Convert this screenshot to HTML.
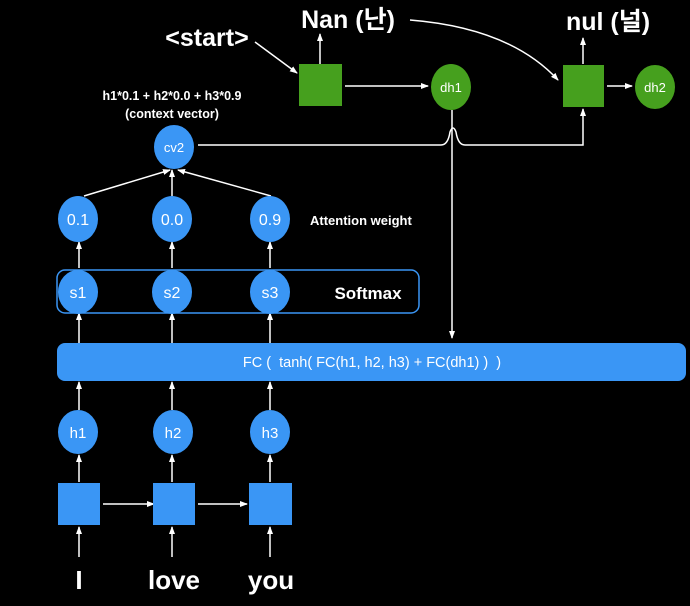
<!DOCTYPE html>
<html><head><meta charset="utf-8"><style>
html,body{margin:0;padding:0;background:#000;}
svg{display:block}
text{font-family:"Liberation Sans","Noto Sans CJK KR",sans-serif;fill:#fff;}
</style></head><body>
<svg width="690" height="606" viewBox="0 0 690 606">
<defs><marker id="a" markerWidth="8" markerHeight="8" refX="7" refY="4" orient="auto" markerUnits="userSpaceOnUse"><path d="M0,1 L8,4 L0,7 Z" fill="#fff"/></marker></defs>
<g stroke="#fff" stroke-width="1.5" fill="none">
<!-- top decoder -->
<line x1="255" y1="42" x2="297" y2="73" marker-end="url(#a)"/>
<line x1="320" y1="64" x2="320" y2="34" marker-end="url(#a)"/>
<line x1="345" y1="86" x2="428" y2="86" marker-end="url(#a)"/>
<path d="M410,20 Q510,28 558,80" marker-end="url(#a)"/>
<line x1="583" y1="64" x2="583" y2="38" marker-end="url(#a)"/>
<line x1="607" y1="86" x2="632" y2="86" marker-end="url(#a)"/>
<path d="M198,145 L441,145 Q448,145 450,132 Q453,124 456,132 Q458,145 465,145 L583,145 L583,109" marker-end="url(#a)"/>
<line x1="452" y1="110" x2="452" y2="338" marker-end="url(#a)"/>
<!-- attention -->
<line x1="84" y1="196" x2="170" y2="170" marker-end="url(#a)"/>
<line x1="172" y1="196" x2="172" y2="170" marker-end="url(#a)"/>
<line x1="271" y1="196" x2="178" y2="170" marker-end="url(#a)"/>
<line x1="79" y1="268" x2="79" y2="242" marker-end="url(#a)"/>
<line x1="172" y1="268" x2="172" y2="242" marker-end="url(#a)"/>
<line x1="270" y1="268" x2="270" y2="242" marker-end="url(#a)"/>
<line x1="79" y1="343" x2="79" y2="313" marker-end="url(#a)"/>
<line x1="172" y1="343" x2="172" y2="313" marker-end="url(#a)"/>
<line x1="270" y1="343" x2="270" y2="313" marker-end="url(#a)"/>
<line x1="79" y1="410" x2="79" y2="382" marker-end="url(#a)"/>
<line x1="172" y1="410" x2="172" y2="382" marker-end="url(#a)"/>
<line x1="270" y1="410" x2="270" y2="382" marker-end="url(#a)"/>
<line x1="79" y1="482" x2="79" y2="455" marker-end="url(#a)"/>
<line x1="172" y1="482" x2="172" y2="455" marker-end="url(#a)"/>
<line x1="270" y1="482" x2="270" y2="455" marker-end="url(#a)"/>
<line x1="103" y1="504" x2="154" y2="504" marker-end="url(#a)"/>
<line x1="198" y1="504" x2="247" y2="504" marker-end="url(#a)"/>
<line x1="79" y1="557" x2="79" y2="527" marker-end="url(#a)"/>
<line x1="172" y1="557" x2="172" y2="527" marker-end="url(#a)"/>
<line x1="270" y1="557" x2="270" y2="527" marker-end="url(#a)"/>
</g>
<rect x="299" y="64" width="43" height="42" fill="#46a01e"/>
<rect x="563" y="65" width="41" height="42" fill="#46a01e"/>
<ellipse cx="451" cy="87" rx="20" ry="23" fill="#46a01e"/>
<ellipse cx="655" cy="87" rx="20" ry="22" fill="#46a01e"/>
<text x="451" y="92" font-size="13" text-anchor="middle">dh1</text>
<text x="655" y="92" font-size="13" text-anchor="middle">dh2</text>
<text x="207" y="46" font-size="25" font-weight="bold" text-anchor="middle">&lt;start&gt;</text>
<text x="348" y="28" font-size="25" font-weight="bold" text-anchor="middle">Nan (난)</text>
<text x="608" y="30" font-size="25" font-weight="bold" text-anchor="middle">nul (널)</text>
<text x="172" y="100" font-size="12.5" font-weight="bold" text-anchor="middle">h1*0.1 + h2*0.0 + h3*0.9</text>
<text x="172" y="118" font-size="12.5" font-weight="bold" text-anchor="middle">(context vector)</text>
<ellipse cx="174" cy="147" rx="20" ry="22" fill="#3a96f5"/>
<text x="174" y="152" font-size="13" text-anchor="middle">cv2</text>
<g fill="#3a96f5">
<ellipse cx="78" cy="219" rx="20" ry="23"/><ellipse cx="172" cy="219" rx="20" ry="23"/><ellipse cx="270" cy="219" rx="20" ry="23"/>
</g>
<text x="78" y="225" font-size="16" text-anchor="middle">0.1</text>
<text x="172" y="225" font-size="16" text-anchor="middle">0.0</text>
<text x="270" y="225" font-size="16" text-anchor="middle">0.9</text>
<text x="310" y="225" font-size="13" font-weight="bold">Attention weight</text>
<rect x="57" y="270" width="362" height="43" rx="8" fill="none" stroke="#3a96f5" stroke-width="1.5"/>
<g fill="#3a96f5">
<ellipse cx="78" cy="292" rx="20" ry="22"/><ellipse cx="172" cy="292" rx="20" ry="22"/><ellipse cx="270" cy="292" rx="20" ry="22"/>
</g>
<text x="78" y="298" font-size="16" text-anchor="middle">s1</text>
<text x="172" y="298" font-size="16" text-anchor="middle">s2</text>
<text x="270" y="298" font-size="16" text-anchor="middle">s3</text>
<text x="368" y="299" font-size="17" font-weight="bold" text-anchor="middle">Softmax</text>
<rect x="57" y="343" width="629" height="38" rx="8" fill="#3a96f5"/>
<text x="372" y="367" font-size="14.5" text-anchor="middle" xml:space="preserve">FC (  tanh( FC(h1, h2, h3) + FC(dh1) )  )</text>
<g fill="#3a96f5">
<ellipse cx="78" cy="432" rx="20" ry="22"/><ellipse cx="173" cy="432" rx="20" ry="22"/><ellipse cx="270" cy="432" rx="20" ry="22"/>
<rect x="58" y="483" width="42" height="42"/><rect x="153" y="483" width="42" height="42"/><rect x="249" y="483" width="43" height="42"/>
</g>
<text x="78" y="438" font-size="15" text-anchor="middle">h1</text>
<text x="173" y="438" font-size="15" text-anchor="middle">h2</text>
<text x="270" y="438" font-size="15" text-anchor="middle">h3</text>
<text x="79" y="589" font-size="26" font-weight="bold" text-anchor="middle">I</text>
<text x="174" y="589" font-size="26" font-weight="bold" text-anchor="middle">love</text>
<text x="271" y="589" font-size="26" font-weight="bold" text-anchor="middle">you</text>
</svg>
</body></html>
